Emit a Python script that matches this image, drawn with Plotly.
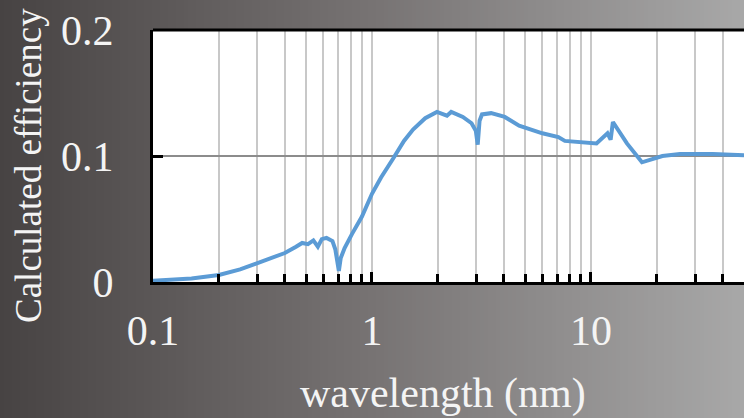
import plotly.graph_objects as go
import math

# ---- data ----
wavelength = [0.1, 0.12, 0.15, 0.2, 0.25, 0.3, 0.35, 0.4, 0.45, 0.48, 0.51, 0.54,
              0.566, 0.59, 0.62, 0.66, 0.68, 0.706, 0.72, 0.75, 0.81, 0.9, 1.0,
              1.1, 1.25, 1.4, 1.54, 1.75, 1.98, 2.2, 2.3, 2.6, 2.85, 2.98, 3.04,
              3.1, 3.18, 3.5, 4.04, 4.7, 6.0, 7.1, 7.6, 8.9, 9.6, 10.6, 11.9,
              12.3, 12.6, 14.6, 17.1, 21.2, 25.5, 36, 50]
efficiency = [0.001, 0.0015, 0.0028, 0.0056, 0.010, 0.015, 0.019, 0.023, 0.028, 0.031,
              0.030, 0.033, 0.028, 0.034, 0.035, 0.0325, 0.026, 0.0087, 0.019, 0.027,
              0.038, 0.052, 0.070, 0.083, 0.098, 0.112, 0.121, 0.130, 0.135, 0.132,
              0.135, 0.131, 0.126, 0.120, 0.109, 0.128, 0.133, 0.134, 0.131, 0.124,
              0.118, 0.115, 0.112, 0.111, 0.110, 0.110, 0.118, 0.113, 0.127, 0.110,
              0.095, 0.100, 0.1015, 0.1015, 0.1005]

x_major = [0.1, 1, 10]
x_major_text = ["0.1", "1", "10"]
x_minor = [0.2, 0.3, 0.4, 0.5, 0.6, 0.7, 0.8, 0.9, 2, 3, 4, 5, 6, 7, 8, 9, 20, 30, 40, 50]
y_ticks = [0, 0.1, 0.2]
y_text = ["0", "0.1", "0.2"]

W, H = 744, 418
L, T, B = 153, 30, 136
pw = W - L
ph = H - T - B

FONT = "Liberation Serif, Times New Roman, serif"
WHITE = "#f4f4f4"

fig = go.Figure()
fig.add_trace(go.Scatter(x=wavelength, y=efficiency, mode="lines",
                         line=dict(color="#5b9bd5", width=4, shape="linear"),
                         showlegend=False, hoverinfo="skip"))

# background gradient (horizontal) drawn as strips in paper coords
def lerp(a, b, t):
    return a + (b - a) * t

stops = [(0, (0x47, 0x43, 0x43)), (372, (0x77, 0x73, 0x73)), (744, (0xa8, 0xa8, 0xa8))]
shapes = []
step = 4
for px in range(0, W, step):
    c = px + step / 2
    for i in range(len(stops) - 1):
        if stops[i][0] <= c <= stops[i + 1][0]:
            t = (c - stops[i][0]) / (stops[i + 1][0] - stops[i][0])
            rgb = tuple(int(round(lerp(stops[i][1][k], stops[i + 1][1][k], t))) for k in range(3))
            break
    shapes.append(dict(type="rect", xref="paper", yref="paper", layer="below",
                       x0=(px - L) / pw, x1=(px + step + 1 - L) / pw,
                       y0=-(B + 5) / ph, y1=(ph + T + 5) / ph,
                       fillcolor="rgb(%d,%d,%d)" % rgb, line=dict(width=0)))
# white plot area
shapes.append(dict(type="rect", xref="paper", yref="paper", layer="below",
                   x0=0, x1=1.01, y0=0, y1=1, fillcolor="white", line=dict(width=0)))

fig.update_layout(
    width=W, height=H,
    margin=dict(l=L, r=0, t=T, b=B),
    paper_bgcolor="rgba(0,0,0,0)",
    plot_bgcolor="rgba(0,0,0,0)",
    shapes=shapes,
    font=dict(family=FONT, size=42, color=WHITE),
    xaxis=dict(
        type="log", range=[-1, math.log10(50)],
        tickmode="array", tickvals=x_major, ticktext=x_major_text,
        ticks="inside", ticklen=10, tickwidth=2.5, tickcolor="black",
        showgrid=True, gridcolor="#c8c8c8", gridwidth=1.5,
        showline=True, linecolor="black", linewidth=3, mirror=False,
        tickfont=dict(family=FONT, size=42, color=WHITE),
        ticklabelstandoff=10,
        minor=dict(tickmode="array", tickvals=x_minor, ticks="inside", ticklen=8,
                   tickwidth=2.5, tickcolor="black", showgrid=True,
                   gridcolor="#c8c8c8", gridwidth=1.5),
        zeroline=False,
    ),
    yaxis=dict(
        range=[0, 0.2], tickmode="array", tickvals=y_ticks, ticktext=y_text,
        ticks="inside", ticklen=10, tickwidth=3, tickcolor="black",
        showgrid=True, gridcolor="#8c8c8c", gridwidth=1.5,
        showline=True, linecolor="black", linewidth=3,
        tickfont=dict(family=FONT, size=42, color=WHITE),
        ticklabelstandoff=28, zeroline=False,
    ),
    annotations=[
        dict(text="wavelength (nm)", xref="paper", yref="paper",
             x=(443 - L) / pw, y=-(393 - T - ph) / ph, xanchor="center", yanchor="middle",
             showarrow=False, font=dict(family=FONT, size=42, color=WHITE)),
        dict(text="Calculated efficiency", xref="paper", yref="paper",
             x=(28 - L) / pw, y=(T + ph - 166) / ph, xanchor="center", yanchor="middle",
             textangle=-90, showarrow=False, font=dict(family=FONT, size=37, color=WHITE)),
    ],
)
# top border line
fig.add_shape(type="line", xref="paper", yref="paper", x0=0, x1=1, y0=1, y1=1,
              line=dict(color="black", width=3), layer="above")

fig.write_html("out.html")
